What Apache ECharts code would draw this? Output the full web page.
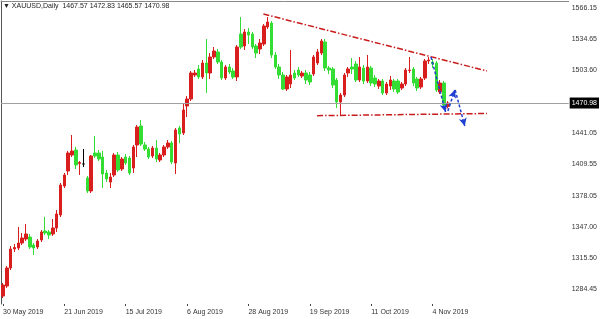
<!DOCTYPE html>
<html>
<head>
<meta charset="utf-8">
<script src="https://cdn.jsdelivr.net/npm/echarts@6/dist/echarts.min.js"></script>
<style>
html,body{margin:0;padding:0;background:#fff;}
#chart{width:600px;height:319px;}
</style>
</head>
<body>
<div id="chart"></div>
<script>
const titleText = '\u25BC XAUUSD,Daily  1467.57 1472.83 1465.57 1470.98';
const dates = [
'30 May 2019','31 May 2019',
'3 Jun 2019','4 Jun 2019','5 Jun 2019','6 Jun 2019','7 Jun 2019','10 Jun 2019','11 Jun 2019','12 Jun 2019','13 Jun 2019','14 Jun 2019',
'17 Jun 2019','18 Jun 2019','19 Jun 2019','20 Jun 2019','21 Jun 2019','24 Jun 2019','25 Jun 2019','26 Jun 2019','27 Jun 2019','28 Jun 2019',
'1 Jul 2019','2 Jul 2019','3 Jul 2019','4 Jul 2019','5 Jul 2019','8 Jul 2019','9 Jul 2019','10 Jul 2019','11 Jul 2019','12 Jul 2019',
'15 Jul 2019','16 Jul 2019','17 Jul 2019','18 Jul 2019','19 Jul 2019','22 Jul 2019','23 Jul 2019','24 Jul 2019','25 Jul 2019','26 Jul 2019',
'29 Jul 2019','30 Jul 2019','31 Jul 2019',
'1 Aug 2019','2 Aug 2019','5 Aug 2019','6 Aug 2019','7 Aug 2019','8 Aug 2019','9 Aug 2019','12 Aug 2019','13 Aug 2019','14 Aug 2019',
'15 Aug 2019','16 Aug 2019','19 Aug 2019','20 Aug 2019','21 Aug 2019','22 Aug 2019','23 Aug 2019','26 Aug 2019','27 Aug 2019','28 Aug 2019',
'29 Aug 2019','30 Aug 2019',
'2 Sep 2019','3 Sep 2019','4 Sep 2019','5 Sep 2019','6 Sep 2019','9 Sep 2019','10 Sep 2019','11 Sep 2019','12 Sep 2019','13 Sep 2019',
'16 Sep 2019','17 Sep 2019','18 Sep 2019','19 Sep 2019','20 Sep 2019','23 Sep 2019','24 Sep 2019','25 Sep 2019','26 Sep 2019','27 Sep 2019',
'30 Sep 2019',
'1 Oct 2019','2 Oct 2019','3 Oct 2019','4 Oct 2019','7 Oct 2019','8 Oct 2019','9 Oct 2019','10 Oct 2019','11 Oct 2019','14 Oct 2019',
'15 Oct 2019','16 Oct 2019','17 Oct 2019','18 Oct 2019','21 Oct 2019','22 Oct 2019','23 Oct 2019','24 Oct 2019','25 Oct 2019','28 Oct 2019',
'29 Oct 2019','30 Oct 2019','31 Oct 2019',
'1 Nov 2019','4 Nov 2019','5 Nov 2019','6 Nov 2019','7 Nov 2019','8 Nov 2019'
];
const opens = [
1278,1288,1306,1325,1326,1331,1335,1337,1329,1327,
1334,1343,1342,1340,1346,1359,1388,1403,1419,1424,
1410.5,1410,1396,1383,1421,1421,1417,1401,1392,1399,
1419,1405,1417,1416,1406,1429,1448,1429,1425,1418,
1426,1414,1419,1427,1431,1411,1446,1441,1468,1475,
1499,1505,1497,1511,1501,1517,1522,1512,1496,1507,
1503,1497,1540,1528,1542,1540,1528,1525,1530,1547,
1551,1519,1507,1499,1485,1490,1501,1504,1498,1501,
1499,1500,1511,1521,1532,1506,1505,1494,1472,1479,
1501,1507,1510,1494,1506,1493,1506,1496,1488,1493,
1481,1488,1493,1493,1486,1490,1503.5,1505,1495,1487,
1496,1513,1512,1511,1482,1491,1467.57
];
const closes = [
1289,1306,1325,1326.5,1331,1336,1340,1327,1326,1333,
1342,1341,1339,1346,1360,1389,1399,1421,1423,1409,
1411.5,1410,1383,1418,1418,1415,1400,1395,1397,1419,
1404,1415,1411,1401,1427,1447,1430,1425,1417,1426,
1415,1419,1427,1431,1412,1444,1440,1464,1475,1501,
1501,1497,1511,1501,1517,1523,1512,1496,1507,1502,
1497,1527,1527,1542,1539,1527,1521,1531,1548,1552,
1519,1507,1499,1485,1497,1499,1496,1499,1501,1494,
1492,1517,1522,1533,1506,1504,1489,1472,1479,1499,
1505,1505,1494,1507,1493,1507,1491,1490,1493,1481,
1490,1494,1485,1482,1490,1504,1504,1491,1486,1495,
1513,1514,1510,1484,1491,1469,1470.98
];
const lows = [
1276,1286,1304,1322,1324,1329,1333,1325,1319,1325,
1332,1339,1335,1338,1342,1357,1386,1399,1417,1405,
1399,1407,1381,1381,1416,1413,1386,1392,1386,1397,
1402,1403,1409,1399,1401,1417,1428,1423,1415,1416,
1412,1412,1417,1425,1410,1400,1431,1439,1457,1473,
1497,1495,1495,1481,1495,1515,1510,1494,1494,1500,
1495,1493,1525,1524,1530,1525,1516,1520,1528,1545,
1516,1505,1495,1484,1483,1486,1494,1497,1496,1490,
1489,1498,1509,1519,1503,1500,1486,1466,1458,1477,
1497,1500,1492,1492,1490,1491,1488,1487,1485,1479,
1479,1484,1482,1480,1484,1488,1501,1488,1483,1485,
1494,1510,1506,1482,1480,1466,1465.57
];
const highs = [
1291,1308,1328,1330,1347,1341,1350,1340,1331,1335,
1344,1357,1344,1355,1364,1391,1401,1423,1439,1427,
1413,1425,1398,1419,1438,1424,1423,1404,1401,1421,
1422,1417,1420,1418,1429,1449,1454,1432,1427,1428,
1434,1421,1429,1434,1433,1446,1448,1470,1478,1503,
1504,1509,1514,1535,1521,1527,1525,1514,1509,1510,
1506,1529,1557,1545,1546,1542,1530,1535,1550,1557,
1553,1522,1510,1502,1499,1524,1504,1507,1503,1504,
1502,1519,1525,1535,1535,1508,1507,1496,1481,1501,
1507,1516,1513,1517,1509,1519,1508,1499,1495,1495,
1492,1498,1495,1495,1492,1506,1517,1507,1497,1497,
1515,1517,1515,1513,1494,1493,1472.83
];
const dojiBlack = [21];
const yTickValues = [1284.45, 1315.50, 1347.00, 1378.05, 1409.55, 1441.05, 1503.60, 1534.65, 1566.15];
const lastPrice = 1470.98;
const trendUpper = [[67.9, 1560], [126.2, 1503]];
const trendLower = [[81.9, 1458.3], [126.2, 1460.5]];
const arrowPaths = [
  [[111.6, 1517], [115.4, 1462]],
  [[116.0, 1463], [117.8, 1484]],
  [[117.9, 1484], [120.4, 1448]]
];
const totalSlots = 148;
const labelEvery = 16;

const FONT = '"Liberation Sans", Arial, sans-serif';
const FS = 7;
const UP = '#d91e1e', DOWN = '#33dd33';
const yMin = 1270, yMax = 1573;

const categories = dates.concat(new Array(totalSlots - dates.length).fill(''));
const candleData = opens.map((o, i) => {
  const item = { value: [o, closes[i], lows[i], highs[i]] };
  if (dojiBlack.includes(i)) {
    item.itemStyle = { color: '#000', color0: '#000', borderColor: '#000', borderColor0: '#000' };
  }
  return item;
});
const showIdx = (idx) => idx % labelEvery === 0 && idx < dates.length;
const trendStyle = { color: '#c81c1c', width: 1.5, type: [6, 2, 1.5, 2] };

const chart = echarts.init(document.getElementById('chart'), null, { renderer: 'canvas' });
chart.setOption({
  animation: false,
  backgroundColor: '#fff',
  title: {
    text: titleText, left: 3, top: 3, padding: 0,
    textStyle: { fontFamily: FONT, fontSize: FS, fontWeight: 'normal', color: '#222' }
  },
  grid: { left: 0, right: 30, top: 1, bottom: 15, containLabel: false },
  xAxis: [
    {
      type: 'category', data: categories, boundaryGap: true,
      axisLine: { show: false },
      axisTick: { show: true, interval: showIdx, alignWithLabel: true, length: 2, lineStyle: { color: '#444' } },
      axisLabel: { interval: showIdx, align: 'left', margin: 5, fontFamily: FONT, fontSize: FS, color: '#333' },
      splitLine: { show: false }
    },
    {
      type: 'value', position: 'top', min: -0.5, max: totalSlots - 0.5,
      axisLine: { show: true, onZero: false, lineStyle: { color: '#8a8a8a', width: 1 } },
      axisTick: { show: false }, axisLabel: { show: false }, splitLine: { show: false }
    }
  ],
  yAxis: [
    {
      type: 'value', position: 'right', min: yMin, max: yMax,
      axisLine: { show: false },
      axisTick: { show: false },
      axisLabel: {
        customValues: yTickValues, margin: 3, fontFamily: FONT, fontSize: FS, color: '#333',
        formatter: (v) => Number(v).toFixed(2)
      },
      splitLine: { show: false }
    },
    {
      type: 'value', position: 'left', min: yMin, max: yMax,
      axisLine: { show: true, onZero: false, lineStyle: { color: '#555', width: 1 } },
      axisTick: { show: false }, axisLabel: { show: false }, splitLine: { show: false }
    }
  ],
  series: [
    {
      type: 'candlestick', xAxisIndex: 0, yAxisIndex: 0,
      data: candleData, barWidth: 3,
      itemStyle: { color: UP, color0: DOWN, borderColor: UP, borderColor0: DOWN, borderWidth: 1 },
      markLine: {
        silent: true, symbol: 'none', animation: false,
        lineStyle: { color: '#a0a0a0', width: 1, type: 'solid' },
        label: {
          show: true, position: 'end', distance: 1,
          formatter: () => lastPrice.toFixed(2),
          backgroundColor: '#000', color: '#fff', padding: [2, 2, 2, 2],
          fontFamily: FONT, fontSize: FS
        },
        data: [{ yAxis: lastPrice }]
      }
    },
    {
      type: 'line', xAxisIndex: 1, yAxisIndex: 0, data: trendUpper,
      showSymbol: false, silent: true, lineStyle: trendStyle
    },
    {
      type: 'line', xAxisIndex: 1, yAxisIndex: 0, data: trendLower,
      showSymbol: false, silent: true, lineStyle: trendStyle,
      markLine: {
        silent: true, animation: false,
        symbol: ['none', 'arrow'], symbolSize: [6, 8],
        label: { show: false },
        lineStyle: { color: '#1f3fd0', width: 1.5, type: [3, 2] },
        data: arrowPaths.map(p => [{ coord: p[0] }, { coord: p[1] }])
      }
    }
  ]
});
</script>
</body>
</html>
